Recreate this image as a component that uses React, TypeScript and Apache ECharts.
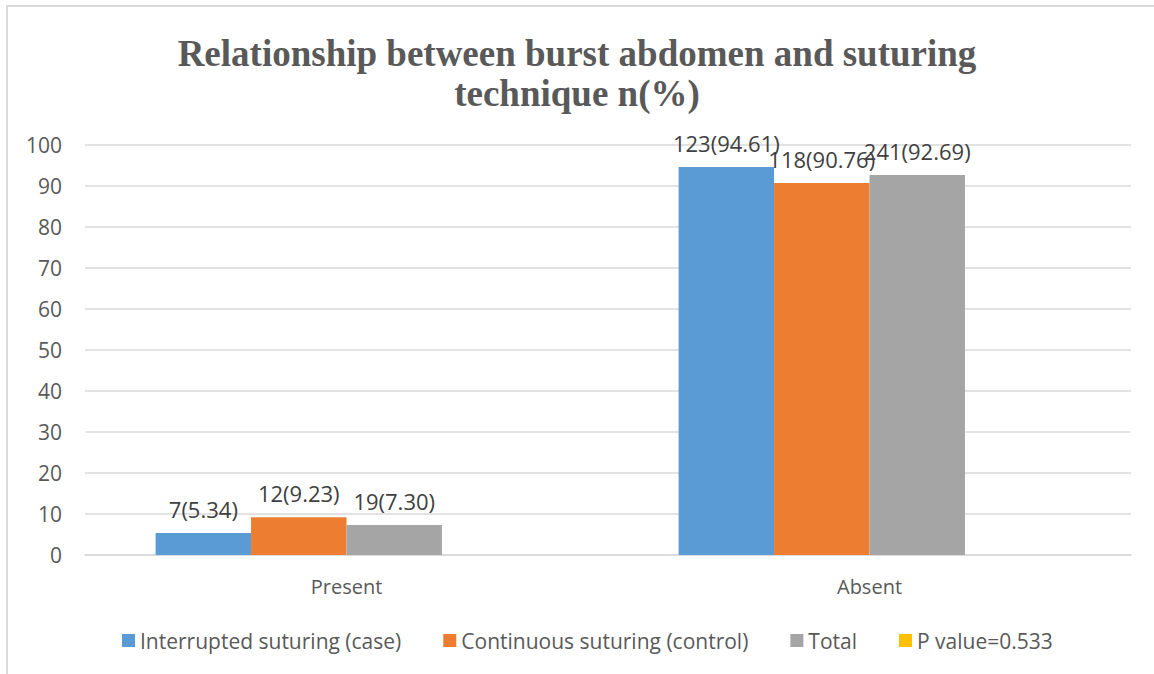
import React, { useEffect, useRef } from "react";
import * as echarts from "echarts";

const categories = ["Present", "Absent"];
const seriesNames = [
  "Interrupted suturing (case)",
  "Continuous suturing (control)",
  "Total",
  "P value=0.533",
];
const interruptedValues = [5.34, 94.61];
const interruptedLabels = ["7(5.34)", "123(94.61)"];
const continuousValues = [9.23, 90.76];
const continuousLabels = ["12(9.23)", "118(90.76)"];
const totalValues = [7.3, 92.69];
const totalLabels = ["19(7.30)", "241(92.69)"];
const pValueValues: (number | null)[] = [null, null];
const colors = ["#5B9BD5", "#ED7D31", "#A5A5A5", "#FFC000"];
const yTicks = { min: 0, max: 100, interval: 10 };

const FONT = "'Open Sans', 'Noto Sans', sans-serif";

export default function App() {
  const ref = useRef<HTMLDivElement>(null);
  useEffect(() => {
    if (!ref.current) return;
    const chart = echarts.init(ref.current, undefined, { renderer: "svg" });
    const mk = (name: string, vals: (number | null)[], labels: string[] | null, color: string) => ({
      name,
      type: "bar",
      data: vals,
      barGap: "0%",
      barCategoryGap: "27%",
      itemStyle: { color },
      label: {
        show: !!labels,
        position: "top",
        distance: 13,
        formatter: (p: any) => (labels ? labels[p.dataIndex] : ""),
        color: "#404040",
        fontSize: 22,
        fontFamily: FONT,
      },
    });
    chart.setOption({
      animation: false,
      backgroundColor: "#ffffff",
      color: colors,
      title: {
        text: "Relationship between burst abdomen and suturing\ntechnique n(%)",
        left: "center",
        top: 28,
        textStyle: {
          fontFamily: "'Liberation Serif', 'Times New Roman', serif",
          fontWeight: "bold",
          fontSize: 37,
          lineHeight: 40,
          color: "#595959",
        },
      },
      graphic: [
        {
          type: "rect",
          shape: { x: 7, y: 6, width: 1160, height: 680 },
          style: { fill: "none", stroke: "#d9d9d9", lineWidth: 2 },
          silent: true,
        },
      ],
      legend: {
        data: seriesNames.map((n) => ({ name: n, icon: "rect" })),
        bottom: 18,
        left: 117,
        itemWidth: 13,
        itemHeight: 13,
        itemGap: 42,
        textStyle: { fontSize: 21, color: "#595959", fontFamily: FONT },
      },
      grid: { left: 85, right: 23, top: 145, bottom: 119, containLabel: false },
      xAxis: {
        type: "category",
        data: categories,
        axisLine: { lineStyle: { color: "#d9d9d9", width: 1.5 } },
        axisTick: { show: false },
        axisLabel: { fontSize: 20, color: "#595959", fontFamily: FONT, margin: 21 },
      },
      yAxis: {
        type: "value",
        min: yTicks.min,
        max: yTicks.max,
        interval: yTicks.interval,
        axisLine: { show: false },
        axisTick: { show: false },
        axisLabel: { fontSize: 21, color: "#595959", fontFamily: FONT, margin: 23 },
        splitLine: { lineStyle: { color: "#d9d9d9", width: 1.5 } },
      },
      series: [
        mk(seriesNames[0], interruptedValues, interruptedLabels, colors[0]),
        mk(seriesNames[1], continuousValues, continuousLabels, colors[1]),
        mk(seriesNames[2], totalValues, totalLabels, colors[2]),
        mk(seriesNames[3], pValueValues, null, colors[3]),
      ],
    });
    return () => chart.dispose();
  }, []);
  return <div ref={ref} style={{ width: 1154, height: 674, position: "absolute", left: 0, top: 0 }} />;
}
